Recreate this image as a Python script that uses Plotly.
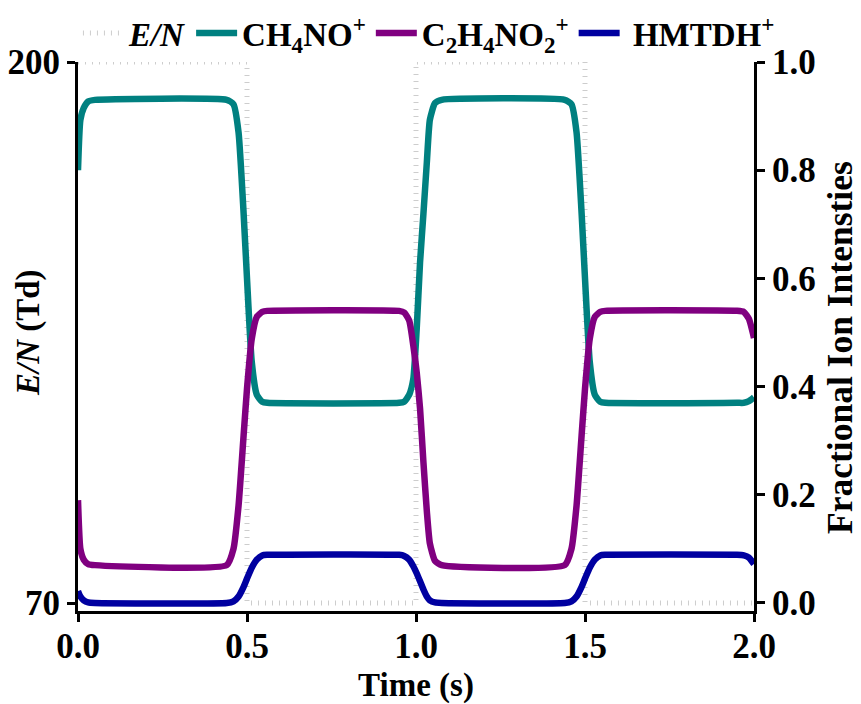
import plotly.graph_objects as go

# E/N square wave (Td)
t_en = [0.0, 0.5, 0.5, 1.0, 1.0, 1.5, 1.5, 2.0]
en_td = [200, 200, 70, 70, 200, 200, 70, 70]

# Fractional ion intensities
t = [0.0, 0.007, 0.017, 0.03, 0.05, 0.44, 0.46, 0.475, 0.49, 0.50, 0.514, 0.529, 0.545, 0.56,
     0.95, 0.965, 0.98, 0.992, 1.002, 1.012, 1.022, 1.032, 1.041, 1.056, 1.076,
     1.44, 1.46, 1.475, 1.49, 1.50, 1.514, 1.529, 1.545, 1.56,
     1.95, 1.97, 1.985, 2.0]
ch4no = [0.80, 0.893, 0.915, 0.927, 0.93, 0.93, 0.922, 0.87, 0.72, 0.60, 0.446, 0.385, 0.372, 0.37,
         0.37, 0.372, 0.385, 0.414, 0.506, 0.63, 0.72, 0.814, 0.893, 0.924, 0.93,
         0.93, 0.922, 0.87, 0.72, 0.60, 0.446, 0.385, 0.372, 0.37,
         0.37, 0.37, 0.373, 0.38]
c2h4no2 = [0.19, 0.10, 0.08, 0.072, 0.07, 0.07, 0.10, 0.18, 0.31, 0.396, 0.488, 0.529, 0.538, 0.54,
           0.54, 0.537, 0.522, 0.476, 0.427, 0.359, 0.26, 0.17, 0.11, 0.078, 0.07,
           0.07, 0.10, 0.18, 0.31, 0.396, 0.488, 0.529, 0.538, 0.54,
           0.54, 0.538, 0.525, 0.49]
hmtdh = [0.022, 0.012, 0.005, 0.001, 0.0, 0.0, 0.003, 0.012, 0.03, 0.045, 0.065, 0.08, 0.088, 0.089,
         0.089, 0.087, 0.08, 0.068, 0.055, 0.04, 0.025, 0.012, 0.005, 0.001, 0.0,
         0.0, 0.003, 0.012, 0.03, 0.045, 0.065, 0.08, 0.088, 0.089,
         0.089, 0.088, 0.084, 0.072]

x_ticks = [0.0, 0.5, 1.0, 1.5, 2.0]
en_ticks = [70, 200]

FONT = "Liberation Serif, Times New Roman, serif"
ML, MR, MT, MB = 78, 107, 62, 93
W, H = 861, 704
PW, PH = W - ML - MR, H - MT - MB

fig = go.Figure()
fig.add_trace(go.Scatter(x=t_en, y=en_td, name="<i>E/N</i>", mode="lines",
                         line=dict(color="#cdcdcd", width=5, dash="1px,6px"), yaxis="y"))
fig.add_trace(go.Scatter(x=t, y=ch4no, name="CH<sub>4</sub>NO<sup>+</sup>", mode="lines",
                         line=dict(color="#008080", width=6.5, shape="spline", smoothing=0.5), yaxis="y2"))
fig.add_trace(go.Scatter(x=t, y=c2h4no2, name="C<sub>2</sub>H<sub>4</sub>NO<sub>2</sub><sup>+</sup>", mode="lines",
                         line=dict(color="#800080", width=6.5, shape="spline", smoothing=0.5), yaxis="y2"))
fig.add_trace(go.Scatter(x=t, y=hmtdh, name=" HMTDH<sup>+</sup>", mode="lines",
                         line=dict(color="#0000A0", width=6.5, shape="spline", smoothing=0.5), yaxis="y2"))

axis_common = dict(showgrid=False, zeroline=False, showline=True, linecolor="black", linewidth=3,
                   ticks="outside", ticklen=8, tickwidth=3, tickcolor="black", automargin=False,
                   tickfont=dict(size=35))

fig.update_layout(
    width=W, height=H,
    margin=dict(l=ML, r=MR, t=MT, b=MB, autoexpand=False),
    paper_bgcolor="white", plot_bgcolor="white",
    font=dict(family=FONT, size=32, color="black", weight="bold"),
    showlegend=True,
    legend=dict(orientation="h", x=-0.0001, xanchor="left", y=1 + (MT - 33) / PH, yanchor="middle",
                font=dict(size=33, family=FONT, weight="bold"), bgcolor="rgba(0,0,0,0)",
                tracegroupgap=0, itemwidth=41),
    xaxis=dict(range=[0, 2], tickvals=x_ticks, tickformat=".1f", ticklabelstandoff=-6,
               title=dict(text="Time (s)", font=dict(size=33), standoff=8), **axis_common),
    yaxis=dict(range=[68.08, 200], tickvals=en_ticks, **axis_common),
    yaxis2=dict(range=[-0.0148, 1.0], dtick=0.2, tick0=0, tickformat=".1f", overlaying="y", side="right",
                **axis_common),
    annotations=[
        dict(text="<i>E/N</i> (Td)", xref="paper", yref="paper",
             x=(28 - ML) / PW, y=(H - MB - 333) / PH, xanchor="center", yanchor="middle",
             textangle=-90, showarrow=False, font=dict(size=33)),
        dict(text="Fractional Ion Intensties", xref="paper", yref="paper",
             x=(840 - ML) / PW, y=(H - MB - 348) / PH, xanchor="center", yanchor="middle",
             textangle=-90, showarrow=False, font=dict(size=35.5)),
    ],
)

fig.write_html("out.html", config={"displayModeBar": False},
               post_script="document.body.style.margin='0px';")
